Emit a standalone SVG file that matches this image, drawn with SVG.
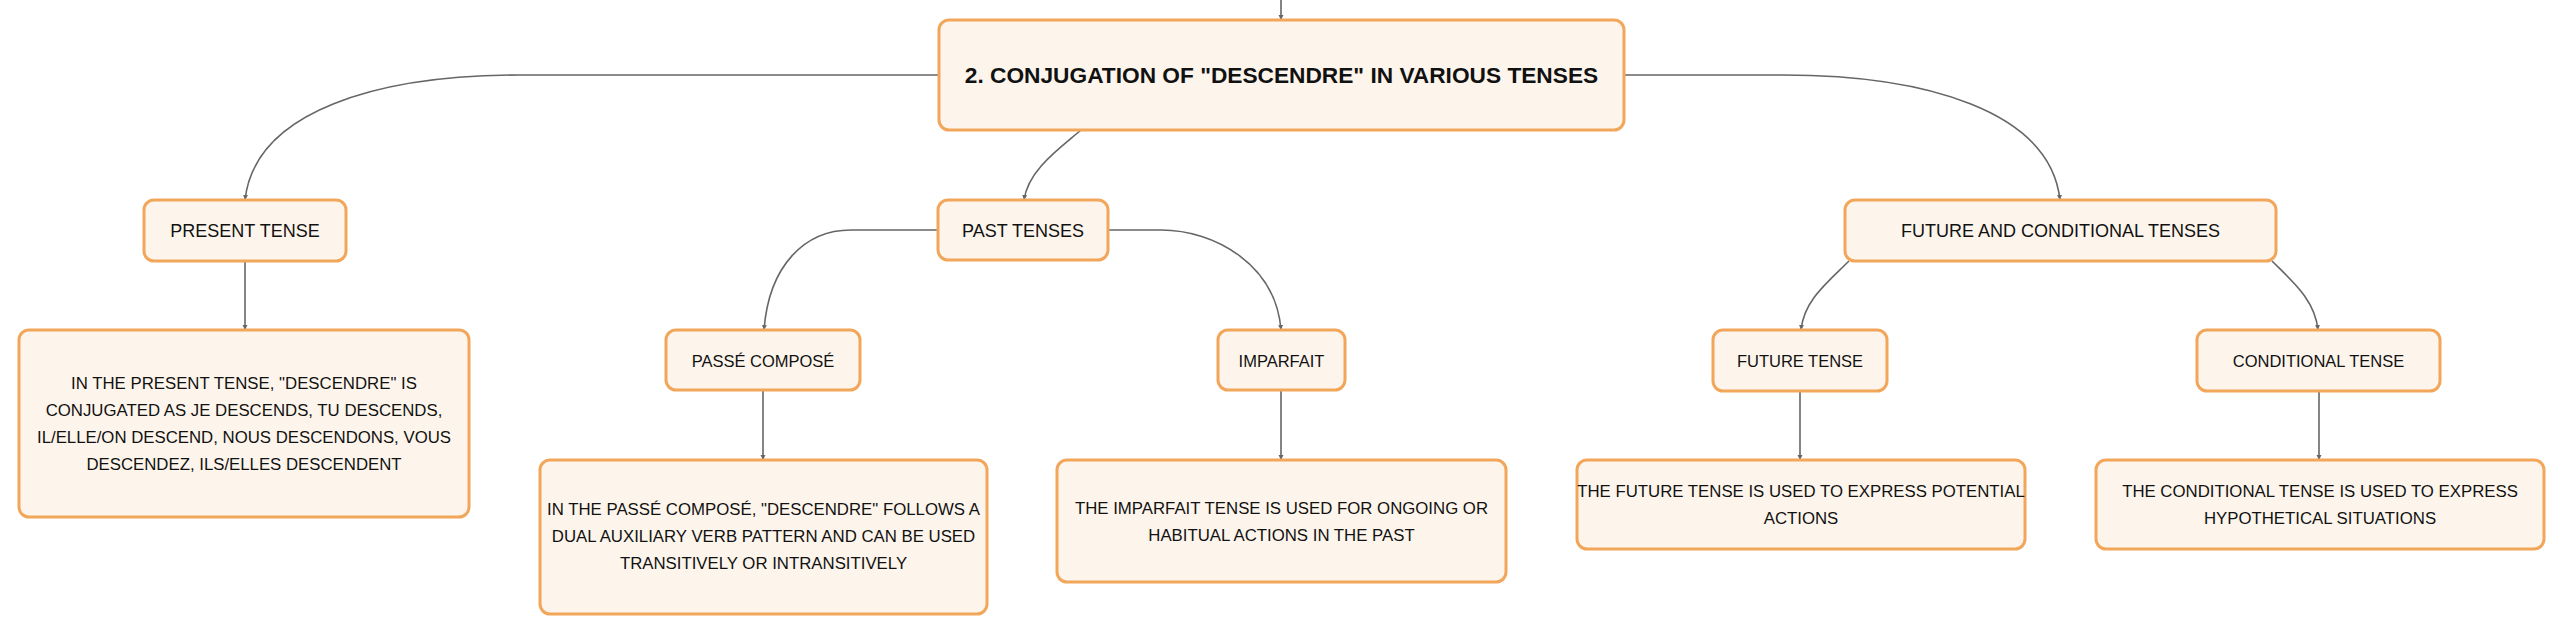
<svg xmlns="http://www.w3.org/2000/svg" width="2565" height="634" viewBox="0 0 2565 634">
<style>
.box{fill:#FDF5EC;stroke:#F2A65A;stroke-width:3}
.t{font-family:"Liberation Sans",Arial,sans-serif;fill:#111;text-anchor:middle}
.title{font-size:22.7px;font-weight:bold}
.l1{font-size:18px}
.l2{font-size:16.5px}
.d{font-size:16.8px}
.c{fill:none;stroke:#666;stroke-width:1.6}
</style>
<defs>
<marker id="ah" markerUnits="userSpaceOnUse" markerWidth="6" markerHeight="6" refX="5" refY="2.5" orient="auto">
<path d="M0,0 L5,2.5 L0,5 z" fill="#666"/>
</marker>
</defs>
<rect width="2565" height="634" fill="#fff"/>
<g id="connectors">
<path class="c" d="M1281,0 V20" marker-end="url(#ah)"/>
<path class="c" d="M939,75 H520 C380,75 255,110 245,200" marker-end="url(#ah)"/>
<path class="c" d="M1081,130 C1060,148 1028,170 1024,200" marker-end="url(#ah)"/>
<path class="c" d="M1624,75 H1783 C1923,75 2050,110 2060,200" marker-end="url(#ah)"/>
<path class="c" d="M938,230 H851 C805,230 769,265 764,330" marker-end="url(#ah)"/>
<path class="c" d="M1108,230 H1161 C1215,230 1276,265 1281,330" marker-end="url(#ah)"/>
<path class="c" d="M1849,261 C1828,282 1804,300 1801,330" marker-end="url(#ah)"/>
<path class="c" d="M2272,261 C2293,282 2315,300 2318,330" marker-end="url(#ah)"/>
<path class="c" d="M245,261 V330" marker-end="url(#ah)"/>
<path class="c" d="M763,390 V460" marker-end="url(#ah)"/>
<path class="c" d="M1281,390 V460" marker-end="url(#ah)"/>
<path class="c" d="M1800,391 V460" marker-end="url(#ah)"/>
<path class="c" d="M2319,391 V460" marker-end="url(#ah)"/>
</g>
<g id="main">
<rect class="box" x="939" y="20" width="685" height="110" rx="10"/>
<text class="t title" x="1281.5" y="83">2. CONJUGATION OF "DESCENDRE" IN VARIOUS TENSES</text>
</g>
<g id="present">
<rect class="box" x="144" y="200" width="202" height="61" rx="10"/>
<text class="t l1" x="245" y="237">PRESENT TENSE</text>
</g>
<g id="past">
<rect class="box" x="938" y="200" width="170" height="60" rx="10"/>
<text class="t l1" x="1023" y="237">PAST TENSES</text>
</g>
<g id="futcond">
<rect class="box" x="1845" y="200" width="431" height="61" rx="10"/>
<text class="t l1" x="2060.5" y="237">FUTURE AND CONDITIONAL TENSES</text>
</g>
<g id="passe">
<rect class="box" x="666" y="330" width="194" height="60" rx="10"/>
<text class="t l2" x="763" y="366.5">PASSÉ COMPOSÉ</text>
</g>
<g id="imparfait">
<rect class="box" x="1218" y="330" width="127" height="60" rx="10"/>
<text class="t l2" x="1281.5" y="366.5">IMPARFAIT</text>
</g>
<g id="future">
<rect class="box" x="1713" y="330" width="174" height="61" rx="10"/>
<text class="t l2" x="1800" y="366.5">FUTURE TENSE</text>
</g>
<g id="conditional">
<rect class="box" x="2197" y="330" width="243" height="61" rx="10"/>
<text class="t l2" x="2318.5" y="366.5">CONDITIONAL TENSE</text>
</g>
<g id="present-detail">
<rect class="box" x="19" y="330" width="450" height="187" rx="10"/>
<text class="t d" x="244" y="388.5">IN THE PRESENT TENSE, "DESCENDRE" IS</text>
<text class="t d" x="244" y="415.5">CONJUGATED AS JE DESCENDS, TU DESCENDS,</text>
<text class="t d" x="244" y="442.5">IL/ELLE/ON DESCEND, NOUS DESCENDONS, VOUS</text>
<text class="t d" x="244" y="469.5">DESCENDEZ, ILS/ELLES DESCENDENT</text>
</g>
<g id="passe-detail">
<rect class="box" x="540" y="460" width="447" height="154" rx="10"/>
<text class="t d" x="763.5" y="515">IN THE PASSÉ COMPOSÉ, "DESCENDRE" FOLLOWS A</text>
<text class="t d" x="763.5" y="542">DUAL AUXILIARY VERB PATTERN AND CAN BE USED</text>
<text class="t d" x="763.5" y="569">TRANSITIVELY OR INTRANSITIVELY</text>
</g>
<g id="imparfait-detail">
<rect class="box" x="1057" y="460" width="449" height="122" rx="10"/>
<text class="t d" x="1281.5" y="513.5">THE IMPARFAIT TENSE IS USED FOR ONGOING OR</text>
<text class="t d" x="1281.5" y="540.5">HABITUAL ACTIONS IN THE PAST</text>
</g>
<g id="future-detail">
<rect class="box" x="1577" y="460" width="448" height="89" rx="10"/>
<text class="t d" x="1801" y="496.5">THE FUTURE TENSE IS USED TO EXPRESS POTENTIAL</text>
<text class="t d" x="1801" y="523.5">ACTIONS</text>
</g>
<g id="conditional-detail">
<rect class="box" x="2096" y="460" width="448" height="89" rx="10"/>
<text class="t d" x="2320" y="496.5">THE CONDITIONAL TENSE IS USED TO EXPRESS</text>
<text class="t d" x="2320" y="523.5">HYPOTHETICAL SITUATIONS</text>
</g>
</svg>
